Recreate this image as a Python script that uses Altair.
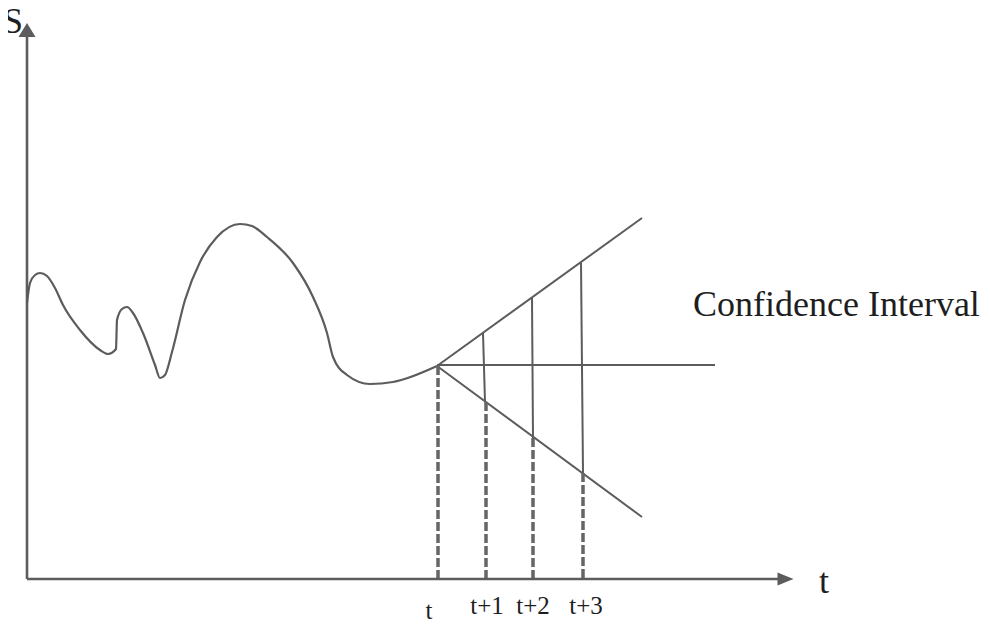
import altair as alt
import pandas as pd

# Schematic coordinates (t grows to the right, S grows upward on screen)
curve_t = [27, 30, 35, 40, 47, 55, 63, 80, 100, 108, 116, 117, 122, 127, 133, 143, 155, 160, 165,
           172, 185, 200, 217, 240, 252, 267, 293, 313, 327, 333, 347, 370, 393, 437]
curve_s = [303, 283, 275, 273, 276, 288, 305, 330, 350, 354, 349, 320, 309, 307, 313, 333, 365, 378, 375,
           352, 300, 262, 237, 224, 226, 237, 263, 297, 333, 357, 375, 384, 382, 366]

# forecast cone: origin and end points
cone_x1 = [437, 437, 437]
cone_y1 = [366, 366, 365]
cone_x2 = [642, 642, 715]
cone_y2 = [218, 517, 365]

# solid verticals between interval bounds
band_x1 = [483, 532, 581]
band_y1 = [333, 298, 263]
band_x2 = [485, 533, 583]
band_y2 = [402, 438, 473]

# dashed drop lines to the time axis
drop_x = [438, 486, 533, 583]
drop_y = [366, 402, 438, 473]
axis_level = 579

tick_labels = ["t", "t+1", "t+2", "t+3"]
tick_x = [429, 487, 533, 586]
tick_y = [619, 614, 614, 614]

GRAY = "#5c5c5c"
FONT = "Liberation Serif, Times New Roman, Times, DejaVu Serif, serif"

xs = alt.Scale(domain=[8, 982], nice=False, zero=False)
ys = alt.Scale(domain=[620, 8], nice=False, zero=False)


def X(f="x"):
    return alt.X(f, type="quantitative", scale=xs, axis=None)


def Y(f="y"):
    return alt.Y(f, type="quantitative", scale=ys, axis=None)


curve_df = pd.DataFrame({"x": curve_t, "y": curve_s})
curve = alt.Chart(curve_df).mark_line(
    color=GRAY, strokeWidth=2.2, interpolate="monotone"
).encode(x=X(), y=Y())

cone_df = pd.DataFrame({"x": cone_x1, "y": cone_y1, "x2": cone_x2, "y2": cone_y2})
cone = alt.Chart(cone_df).mark_rule(color=GRAY, strokeWidth=2).encode(
    x=X(), y=Y(), x2="x2:Q", y2="y2:Q"
)

band_df = pd.DataFrame({"x": band_x1, "y": band_y1, "x2": band_x2, "y2": band_y2})
bands = alt.Chart(band_df).mark_rule(color=GRAY, strokeWidth=2).encode(
    x=X(), y=Y(), x2="x2:Q", y2="y2:Q"
)

drop_df = pd.DataFrame({"x": drop_x, "y": drop_y, "y2": [axis_level] * len(drop_x)})
drops = alt.Chart(drop_df).mark_rule(
    color="#666666", strokeWidth=3.5, strokeDash=[9, 3]
).encode(x=X(), y=Y(), y2="y2:Q")

axes_df = pd.DataFrame({"x": [27, 27], "y": [axis_level, axis_level], "x2": [27, 778], "y2": [37, axis_level]})
axes = alt.Chart(axes_df).mark_rule(color=GRAY, strokeWidth=2.6).encode(
    x=X(), y=Y(), x2="x2:Q", y2="y2:Q"
)

up_arrow = alt.Chart(pd.DataFrame({"x": [27], "y": [30]})).mark_point(
    shape="M0,-0.82L1,0.82L-1,0.82Z", filled=True, size=289, color=GRAY, opacity=1, strokeWidth=0
).encode(x=X(), y=Y())

right_arrow = alt.Chart(pd.DataFrame({"x": [785.5], "y": [axis_level]})).mark_point(
    shape="M-1,-0.8L1,0L-1,0.8Z", filled=True, size=256, color=GRAY, opacity=1, strokeWidth=0
).encode(x=X(), y=Y())

ticks_df = pd.DataFrame({"x": tick_x, "y": tick_y, "label": tick_labels})
ticks = alt.Chart(ticks_df).mark_text(
    font=FONT, fontSize=25, align="center", baseline="alphabetic", color="#1e1e1e"
).encode(x=X(), y=Y(), text="label:N")

big_df = pd.DataFrame({
    "x": [3, 819, 693],
    "y": [33, 593, 316],
    "label": ["S", "t", "Confidence Interval"],
})
big = alt.Chart(big_df).mark_text(
    font=FONT, fontSize=36, align="left", baseline="alphabetic", color="#1e1e1e"
).encode(x=X(), y=Y(), text="label:N")

chart = alt.layer(
    curve, cone, bands, drops, axes, up_arrow, right_arrow, ticks, big
).properties(
    width=974, height=612, padding=0,
    autosize=alt.AutoSizeParams(type="none"),
).configure_view(stroke=None)

chart.save("out.html", embed_options={"renderer": "svg", "actions": False})
